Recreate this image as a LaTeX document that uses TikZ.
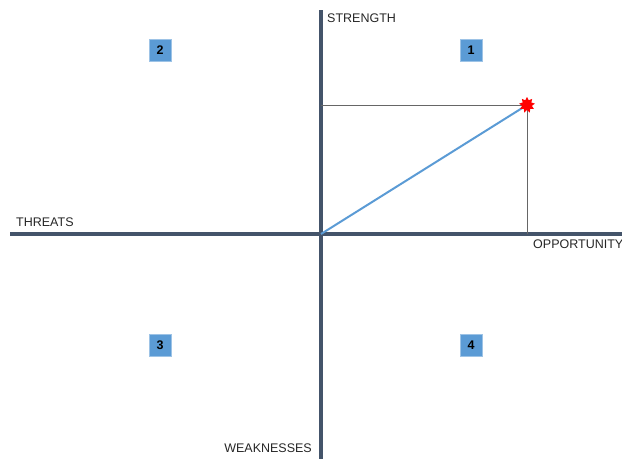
\documentclass[tikz,border=0pt]{standalone}
\usepackage{fontspec}
\setmainfont{Liberation Sans}
\usepackage{xcolor}
\usetikzlibrary{shapes.geometric}
\definecolor{axisgray}{HTML}{44546A}
\definecolor{quadblue}{HTML}{5B9BD5}

\begin{document}
\begin{tikzpicture}[x=1pt, y=-1pt, font=\fontsize{12.5}{15}\selectfont,
    axis/.style={line width=3.5pt, draw=axisgray},
    guide/.style={line width=0.9pt, draw=black!60},
    quad/.style={fill=quadblue, draw=quadblue!60, minimum size=22pt, inner sep=0pt, font=\fontsize{12.5}{15}\selectfont\bfseries},
    label/.style={inner sep=0pt, text=black!85}]
    \useasboundingbox (0,0) rectangle (622,459);

    \coordinate (o) at (321,234);
    \coordinate (top) at (321,10);
    \coordinate (bot) at (321,459);
    \coordinate (left) at (10,234);
    \coordinate (right) at (622,234);
    \coordinate (py) at (321,105);
    \coordinate (px) at (527,234);

    \draw[axis] (left) -- (right);
    \draw[axis] (top) -- (bot);
    \draw[guide] (py) -- (527,105) -- (px);
    \draw[line width=2pt, draw=quadblue] (o) -- (527,105);
    \node[star, star points=9, star point ratio=1.6, fill=red, inner sep=0pt, minimum size=16pt] (pt) at (527,105) {};

    \node[label, anchor=west] (str) at (327,18) {STRENGTH};
    \node[label, anchor=west] (thr) at (16,222) {THREATS};
    \node[label, anchor=west] (opp) at (533,244) {OPPORTUNITY};
    \node[label, anchor=east] (wea) at (312,448) {WEAKNESSES};

    \node[quad] (q1) at (471,50) {1};
    \node[quad] (q2) at (160,50) {2};
    \node[quad] (q3) at (160,345) {3};
    \node[quad] (q4) at (471,345) {4};
\end{tikzpicture}
\end{document}
